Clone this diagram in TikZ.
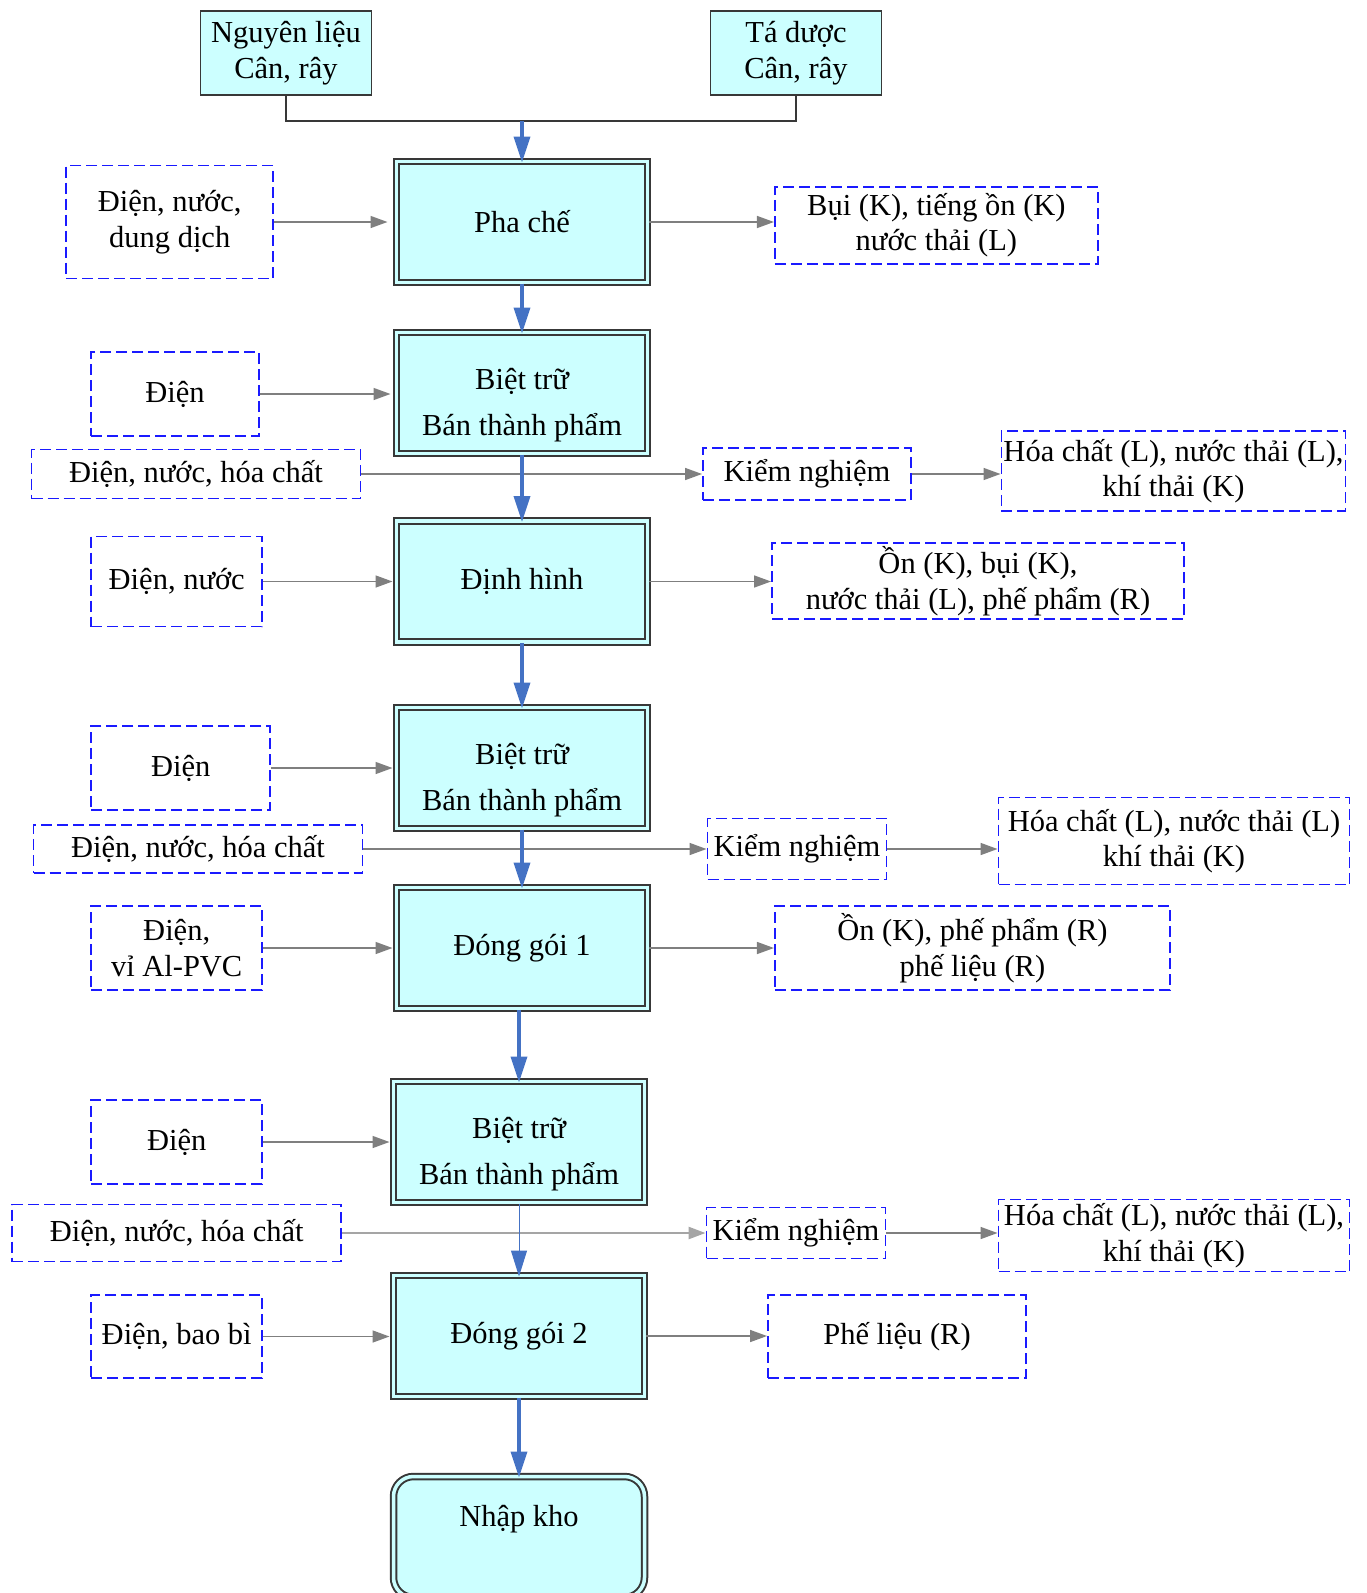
\documentclass[tikz,border=0pt]{standalone}
\usepackage{fontspec}
\setmainfont{Liberation Serif}
\usetikzlibrary{arrows.meta}

\definecolor{boxfill}{HTML}{CCFFFF}
\definecolor{boxline}{HTML}{383838}
\definecolor{dashblue}{HTML}{1A1AFF}
\definecolor{flowblue}{HTML}{4472C4}
\definecolor{sidegray}{HTML}{7F7F7F}

\begin{document}
\begin{tikzpicture}[x=1pt,y=-1pt,
  every node/.style={font=\fontsize{30.5}{35.5}\selectfont, align=center, inner sep=2pt},
  srcbox/.style={draw=boxline, line width=1.6pt, fill=boxfill, minimum width=171pt, minimum height=84pt},
  stagebox/.style={draw=boxline, line width=2pt, fill=boxfill, double=boxfill, double distance=3.5pt,
    minimum width=251pt, minimum height=121pt},
  sidebox/.style={draw=dashblue, line width=1.9pt, dash pattern=on 11pt off 5pt},
  side/.style={color=sidegray, line width=1.5pt, -{Triangle[length=17pt,width=12pt]}},
  main/.style={color=flowblue, line width=3.5pt, -{Triangle[length=26pt,width=16pt]}, shorten >=-2pt},
  joint/.style={draw=boxline, line width=1.5pt}]
\useasboundingbox (0,0) rectangle (1366,1593);

% starting materials
\node[srcbox] (rawmat) at (286,53) {Nguyên liệu\\Cân, rây};
\node[srcbox] (excip)  at (796,53) {Tá dược\\Cân, rây};
\coordinate (junc) at (522,121);

% main line
\node[stagebox] (mix)   at (522,222)  {Pha chế};
\node[stagebox] (hold1) at (522,393)  {\rule{0pt}{45pt}Biệt trữ\\[11pt]Bán thành phẩm};
\node[stagebox] (shape) at (522,581.5) {Định hình};
\node[stagebox] (hold2) at (522,768)  {\rule{0pt}{45pt}Biệt trữ\\[11pt]Bán thành phẩm};
\node[stagebox] (pack1) at (522,948)  {Đóng gói 1};
\node[stagebox] (hold3) at (519,1142) {\rule{0pt}{45pt}Biệt trữ\\[11pt]Bán thành phẩm};
\node[stagebox] (pack2) at (519,1336) {Đóng gói 2};
\node[stagebox, rounded corners=20pt] (store) at (519,1537) {\rule{0pt}{36pt}Nhập kho\\[11pt]\strut};

% inputs
\node[sidebox, minimum width=207pt, minimum height=113pt] (supply1) at (169.7,222)  {Điện, nước,\\dung dịch};
\node[sidebox, minimum width=168pt, minimum height=84pt]  (supply2) at (175,394)    {Điện};
\node[sidebox, minimum width=329pt, minimum height=49pt]  (chem1)   at (196,474)    {Điện, nước, hóa chất};
\node[sidebox, minimum width=171pt, minimum height=90pt]  (supply3) at (176.7,581.5) {Điện, nước};
\node[sidebox, minimum width=179pt, minimum height=84pt]  (supply4) at (180.8,768)  {Điện};
\node[sidebox, minimum width=329pt, minimum height=48pt]  (chem2)   at (198,849)    {Điện, nước, hóa chất};
\node[sidebox, minimum width=171pt, minimum height=84pt]  (supply5) at (176.7,948)  {Điện,\\vỉ Al-PVC};
\node[sidebox, minimum width=171pt, minimum height=84pt]  (supply6) at (176.7,1142) {Điện};
\node[sidebox, minimum width=329pt, minimum height=57pt]  (chem3)   at (176.7,1233) {Điện, nước, hóa chất};
\node[sidebox, minimum width=171pt, minimum height=83pt]  (supply7) at (176.7,1336.5) {Điện, bao bì};

% testing
\node[sidebox, minimum width=208pt, minimum height=52pt] (test1) at (807,474)  {Kiểm nghiệm};
\node[sidebox, minimum width=179pt, minimum height=61pt] (test2) at (797,849)  {Kiểm nghiệm};
\node[sidebox, minimum width=179pt, minimum height=51pt] (test3) at (796,1233) {Kiểm nghiệm};

% outputs
\node[sidebox, minimum width=323pt, minimum height=77pt] (dust1)  at (936.4,225.4) {Bụi (K), tiếng ồn (K)\\nước thải (L)};
\node[sidebox, minimum width=344pt, minimum height=80pt] (waste1) at (1173.5,471) {Hóa chất (L), nước thải (L),\\khí thải (K)};
\node[sidebox, minimum width=412pt, minimum height=76pt] (noise1) at (978,581.4)  {Ồn (K), bụi (K),\\nước thải (L), phế phẩm (R)};
\node[sidebox, minimum width=351pt, minimum height=87pt] (waste2) at (1174,841)   {Hóa chất (L), nước thải (L)\\khí thải (K)};
\node[sidebox, minimum width=395pt, minimum height=84pt] (noise2) at (972.4,948)  {Ồn (K), phế phẩm (R)\\phế liệu (R)};
\node[sidebox, minimum width=351pt, minimum height=72pt] (waste3) at (1174,1235.5) {Hóa chất (L), nước thải (L),\\khí thải (K)};
\node[sidebox, minimum width=258pt, minimum height=83pt] (scrap)  at (897,1336.5) {Phế liệu (R)};

% joining line
\draw[joint] (rawmat.south) |- (junc) -| (excip.south);

% side flows
\path[side]
  (supply1.east) edge[shorten >=8pt] (supply1.east -| mix.west)
  (supply2.east) edge[shorten >=5pt] (supply2.east -| hold1.west)
  (supply3.east) edge[shorten >=3pt] (supply3.east -| shape.west)
  (supply4.east) edge[shorten >=3pt] (supply4.east -| hold2.west)
  (supply5.east) edge[shorten >=3pt] (supply5.east -| pack1.west)
  (supply6.east) edge[shorten >=3pt] (supply6.east -| hold3.west)
  (supply7.east) edge[shorten >=3pt] (supply7.east -| pack2.west)
  (chem1.east)   edge (chem1.east -| test1.west)
  (chem2.east)   edge (chem2.east -| test2.west)
  (chem3.east)   edge[line width=2.5pt, color=sidegray!70] (chem3.east -| test3.west)
  (test1.east)   edge (test1.east -| waste1.west)
  (test2.east)   edge (test2.east -| waste2.west)
  (test3.east)   edge (test3.east -| waste3.west)
  (mix.east)     edge (mix.east -| dust1.west)
  (shape.east)   edge (shape.east -| noise1.west)
  (pack1.east)   edge (pack1.east -| noise2.west)
  (pack2.east)   edge (pack2.east -| scrap.west)
;

% main flow
\path[main]
  (junc)  edge (mix)
  (mix)   edge (hold1)
  (hold1) edge (shape)
  (shape) edge (hold2)
  (hold2) edge (pack1)
  (pack1.south -| hold3.north) edge (hold3.north)
  (hold3) edge[line width=1pt] (pack2)
  (pack2) edge (store)
;
\end{tikzpicture}
\end{document}
